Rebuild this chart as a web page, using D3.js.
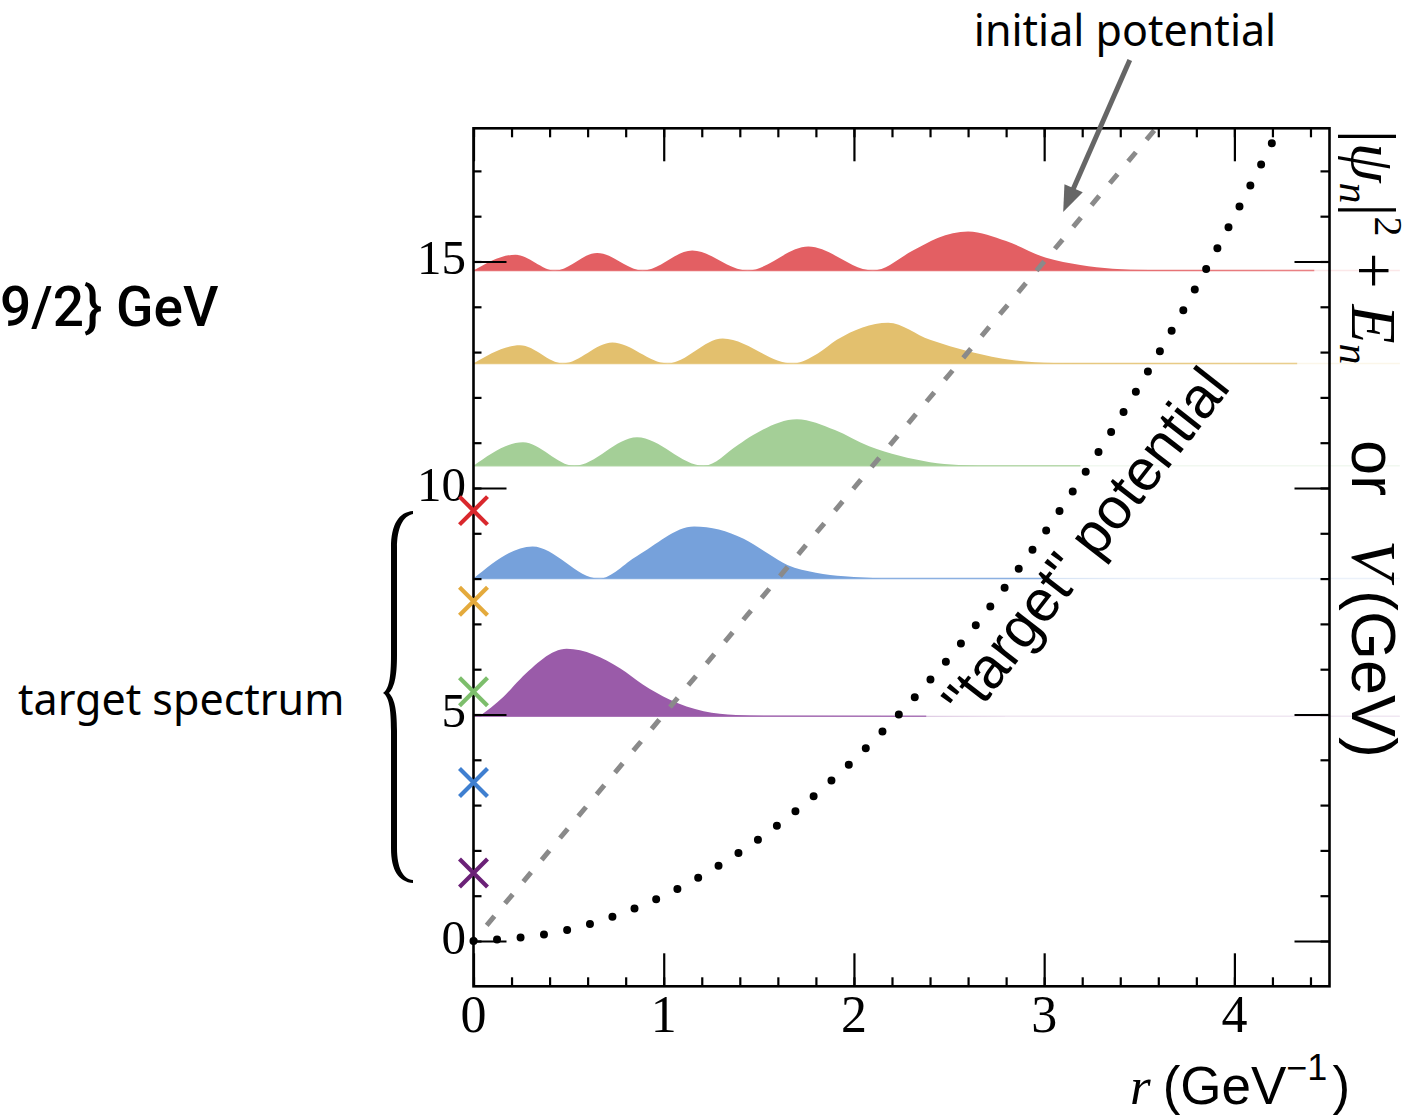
<!DOCTYPE html>
<html>
<head>
<meta charset="utf-8">
<script src="https://cdn.jsdelivr.net/npm/d3@7"></script>
<style>
  body { margin: 0; background: #fff; }
  svg { display: block; }
</style>
</head>
<body>
<svg id="chart" width="1419" height="1118"></svg>
<script>
// energy levels E_n the |psi_n|^2 humps sit on (GeV)
const levels = [4.96, 8.0, 10.49, 12.75, 14.8];
const fillColors = ['#9a5ba9', '#76a1db', '#a4cf97', '#e3c06e', '#e35f63'];
const markColors = ['#6b2177', '#3f7fd0', '#7dbe6c', '#e4aa3c', '#d9282d'];
// target spectrum (crosses on the r = 0 axis)
const targetSpectrum = [1.5, 3.5, 5.5, 7.5, 9.5];

// |psi_n|^2: r values and height above E_n
const psiR = [
  [0.03, 0.155, 0.245, 0.49, 0.77, 0.89, 1.03, 1.21, 1.38, 1.56, 4.5],
  [0, 0.31, 0.66, 0.86, 1.16, 1.42, 1.55, 1.65, 1.80, 1.95, 2.15, 4.5],
  [0, 0.26, 0.53, 0.86, 1.21, 1.39, 1.47, 1.70, 1.90, 2.08, 2.24, 2.40, 2.55, 2.75, 4.5],
  [0, 0.245, 0.47, 0.73, 1.02, 1.31, 1.68, 1.81, 1.91, 2.18, 2.40, 2.61, 2.84, 3.05, 4.33],
  [0, 0.22, 0.43, 0.65, 0.89, 1.15, 1.44, 1.76, 2.10, 2.31, 2.44, 2.60, 2.80, 3.01, 3.19, 3.36, 3.55, 4.42]
];
const psiH = [
  [0, 0.42, 0.82, 1.49, 1.06, 0.70, 0.37, 0.11, 0.03, 0.01, 0],
  [0, 0.71, 0, 0.50, 1.15, 0.88, 0.55, 0.30, 0.13, 0.05, 0.01, 0],
  [0, 0.52, 0, 0.63, 0, 0.46, 0.68, 1.03, 0.79, 0.43, 0.22, 0.08, 0.02, 0, 0],
  [0, 0.40, 0, 0.46, 0, 0.55, 0, 0.22, 0.52, 0.90, 0.52, 0.26, 0.07, 0.01, 0],
  [0, 0.35, 0, 0.39, 0, 0.44, 0, 0.53, 0, 0.44, 0.72, 0.86, 0.65, 0.28, 0.12, 0.04, 0.01, 0]
];
// where the solid E_n line fades out (r)
const lineEnd = [2.38, 3.03, 3.19, 4.33, 4.42];

// "target" potential (dotted) and initial potential (dashed)
const targetR = [0, 0.5, 1, 1.5, 2, 2.5, 3, 3.5, 4, 4.22];
const targetV = [0, 0.25, 1, 2.25, 4, 6.25, 9, 12.25, 16, 17.8];
const initialR = [0, 1, 2, 3, 3.6];
const initialV = [0, 5, 10, 15, 18];

const xTicks = [0, 1, 2, 3, 4];
const yTicks = [0, 5, 10, 15];

const serif = '"Liberation Serif","Times New Roman",serif';
const sans = '"Liberation Sans",Arial,sans-serif';
const noto = '"Noto Sans","Noto Sans CJK SC",sans-serif';

const svg = d3.select('#chart');
svg.append('rect').attr('width', 1419).attr('height', 1118).attr('fill', '#fff');

const x = d3.scaleLinear().domain([0, 4.5]).range([473.5, 1329.5]);
const y = d3.scaleLinear().domain([-1, 17.94]).range([986.3, 128.3]);

svg.append('defs').append('clipPath').attr('id', 'plotclip').append('rect')
  .attr('x', x(0)).attr('y', y(17.94))
  .attr('width', x(4.5) - x(0)).attr('height', y(-1) - y(17.94));

// wavefunctions
const waves = svg.append('g');
levels.forEach((E, i) => {
  const pts = psiR[i].map((r, j) => [r, psiH[i][j]]);
  const area = d3.area()
    .x((d) => x(d[0]))
    .y0(y(E))
    .y1((d) => y(E + d[1]))
    .curve(d3.curveMonotoneX);
  // faint continuation of the level line
  waves.append('line')
    .attr('x1', x(0)).attr('x2', x(4.87))
    .attr('y1', y(E)).attr('y2', y(E))
    .attr('stroke', fillColors[i]).attr('stroke-opacity', 0.15).attr('stroke-width', 1.5);
  waves.append('line')
    .attr('x1', x(0)).attr('x2', x(lineEnd[i]))
    .attr('y1', y(E)).attr('y2', y(E))
    .attr('stroke', fillColors[i]).attr('stroke-opacity', 0.75).attr('stroke-width', 1.5);
  waves.append('path').attr('d', area(pts)).attr('fill', fillColors[i]);
});

// initial potential (dashed grey)
const lineGen = d3.line().x((d) => x(d[0])).y((d) => y(d[1])).curve(d3.curveMonotoneX);
svg.append('path')
  .attr('clip-path', 'url(#plotclip)')
  .attr('d', lineGen(initialR.map((r, i) => [r, initialV[i]])))
  .attr('fill', 'none')
  .attr('stroke', '#8a8a8a')
  .attr('stroke-width', 5)
  .attr('stroke-dasharray', '12 16.5')
  .attr('stroke-dashoffset', 8);

// "target" potential (dotted black)
svg.append('path')
  .attr('d', lineGen(targetR.map((r, i) => [r, targetV[i]])))
  .attr('fill', 'none')
  .attr('stroke', '#000')
  .attr('stroke-width', 8)
  .attr('stroke-linecap', 'round')
  .attr('stroke-dasharray', '0 23.6');

// axes: ticks on all four sides, pointing in
function ticks(gen, tr) {
  const g = svg.append('g').attr('transform', tr).call(gen);
  g.select('.domain').remove();
  g.selectAll('text').remove();
  g.selectAll('line').attr('stroke', '#000').attr('stroke-width', 2.2);
}
const minorX = d3.range(0, 4.501, 0.2);
const minorY = d3.range(0, 17.5, 1);
ticks(d3.axisBottom(x).tickValues(minorX).tickSize(-9), `translate(0,${y(-1)})`);
ticks(d3.axisBottom(x).tickValues(xTicks).tickSize(-33), `translate(0,${y(-1)})`);
ticks(d3.axisTop(x).tickValues(minorX).tickSize(-9), `translate(0,${y(17.94)})`);
ticks(d3.axisTop(x).tickValues(xTicks).tickSize(-33), `translate(0,${y(17.94)})`);
ticks(d3.axisLeft(y).tickValues(minorY).tickSize(-8), `translate(${x(0)},0)`);
ticks(d3.axisLeft(y).tickValues(yTicks).tickSize(-33), `translate(${x(0)},0)`);
ticks(d3.axisRight(y).tickValues(minorY).tickSize(-9), `translate(${x(4.5)},0)`);
ticks(d3.axisRight(y).tickValues(yTicks).tickSize(-35), `translate(${x(4.5)},0)`);

svg.append('rect')
  .attr('x', x(0)).attr('y', y(17.94))
  .attr('width', x(4.5) - x(0)).attr('height', y(-1) - y(17.94))
  .attr('fill', 'none').attr('stroke', '#000').attr('stroke-width', 2.6);

// tick labels
svg.append('g').selectAll('text').data(yTicks).join('text')
  .attr('x', 466).attr('y', (d) => y(d) + 13)
  .attr('text-anchor', 'end')
  .style('font-family', serif).style('font-size', '49px')
  .text((d) => d);
svg.append('g').selectAll('text').data(xTicks).join('text')
  .attr('x', (d) => x(d)).attr('y', 1032)
  .attr('text-anchor', 'middle')
  .style('font-family', serif).style('font-size', '52px')
  .text((d) => d);

// target spectrum crosses
svg.append('g').selectAll('path').data(targetSpectrum).join('path')
  .attr('transform', (d) => `translate(${x(0)},${y(d)})`)
  .attr('d', 'M-14,-14L14,14M-14,14L14,-14')
  .attr('fill', 'none')
  .attr('stroke', (d, i) => markColors[i])
  .attr('stroke-width', 4.2);

// curly brace (filled so the middle is thicker than the tips) + label
svg.append('path')
  .attr('d', 'M413,511 C399,512 391,524 391,548 L391,655 C391,678 389,689 383,693 ' +
    'C389,697 391,708 391,731 L391,848 C391,871 399,882 413,883 ' +
    'L413,880 C403,879 397,868 397,848 L397,731 C397,708 394,698 389,693 ' +
    'C394,688 397,678 397,655 L397,548 C397,528 403,516 413,514 Z')
  .attr('fill', '#000');
svg.append('text')
  .attr('x', 18).attr('y', 715)
  .style('font-family', noto).style('font-size', '43px')
  .text('target spectrum');

// cut-off text at the left edge
svg.append('text')
  .attr('x', 0).attr('y', 326)
  .style('font-family', 'Roboto, sans-serif').style('font-weight', 500).style('font-size', '55px')
  .text('9/2} GeV');

// initial potential label + arrow
svg.append('text')
  .attr('x', 1125).attr('y', 46)
  .attr('text-anchor', 'middle')
  .style('font-family', noto).style('font-size', '43px')
  .text('initial potential');
{
  const x1 = x(3.45), y1 = y(19.45), x2 = x(3.10), y2 = y(16.09);
  const len = Math.hypot(x2 - x1, y2 - y1);
  const ux = (x2 - x1) / len, uy = (y2 - y1) / len;
  const hl = 26, hw = 10;
  const bx = x2 - ux * hl, by = y2 - uy * hl;
  svg.append('line')
    .attr('x1', x1).attr('y1', y1).attr('x2', bx + ux * 2).attr('y2', by + uy * 2)
    .attr('stroke', '#666').attr('stroke-width', 5);
  svg.append('path')
    .attr('d', `M${x2},${y2}L${bx - uy * hw},${by + ux * hw}L${bx + uy * hw},${by - ux * hw}Z`)
    .attr('fill', '#666');
}

// "target" potential label along the dotted curve
svg.append('text')
  .attr('transform', 'translate(1101,555) rotate(-52)')
  .attr('text-anchor', 'middle')
  .style('font-family', sans).style('font-size', '58px')
  .text('"target" potential');

// x-axis title
const xt = svg.append('text').attr('x', 1130).attr('y', 1104)
  .style('font-family', sans).style('font-size', '53px');
xt.append('tspan').style('font-family', serif).style('font-style', 'italic').text('r');
xt.append('tspan').attr('dx', 12).text('(GeV');
xt.append('tspan').attr('dy', -24).style('font-size', '36px').text('\u22121');
xt.append('tspan').attr('dy', 24).attr('dx', 5).text(')');

// right axis title, reads top to bottom
const yt = svg.append('text')
  .attr('transform', 'translate(1352,130) rotate(90)')
  .style('font-family', serif).style('font-size', '64px');
yt.append('tspan').attr('x', 0).text('|');
yt.append('tspan').style('font-style', 'italic').text('\u03c8');
yt.append('tspan').attr('dy', 12).style('font-style', 'italic').style('font-size', '42px').text('n');
yt.append('tspan').attr('dy', -12).text('|');
yt.append('tspan').attr('dy', -23).style('font-size', '40px').text('2');
yt.append('tspan').attr('dy', 23).text(' + ');
yt.append('tspan').style('font-style', 'italic').text('E');
yt.append('tspan').attr('dy', 12).style('font-style', 'italic').style('font-size', '42px').text('n');
yt.append('tspan').attr('x', 310).attr('dy', -12).style('font-family', sans).style('font-size', '63px').text('or');
yt.append('tspan').attr('x', 410).style('font-style', 'italic').text('V');
yt.append('tspan').attr('x', 460).style('font-family', sans).style('font-size', '63px').text('(GeV)');
</script>
</body>
</html>
